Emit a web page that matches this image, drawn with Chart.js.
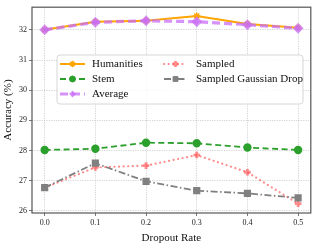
<!DOCTYPE html>
<html><head><meta charset="utf-8">
<script src="https://cdn.jsdelivr.net/npm/chart.js@4"></script>
<style>html,body{margin:0;padding:0;background:#fff}#c{display:block}</style>
</head><body>
<canvas id="c" width="318" height="246"></canvas>
<script>
const dropoutRates = [0.0, 0.1, 0.2, 0.3, 0.4, 0.5];
const humanities = [32.00, 32.27, 32.30, 32.46, 32.19, 32.07];
const stem = [28.02, 28.06, 28.26, 28.24, 28.10, 28.02];
const average = [32.00, 32.25, 32.30, 32.27, 32.17, 32.05];
const sampled = [26.77, 27.44, 27.50, 27.85, 27.28, 26.24];
const sampledGaussianDrop = [26.77, 27.58, 26.98, 26.67, 26.58, 26.43];
const xTicks = [0.0, 0.1, 0.2, 0.3, 0.4, 0.5];
const yTicks = [26, 27, 28, 29, 30, 31, 32];

const serif = "'Liberation Serif', 'DejaVu Serif', serif";
const pts = arr => arr.map((v, i) => ({x: dropoutRates[i], y: v}));

const datasets = [
  {label:'Humanities', data:pts(humanities), borderColor:'#FFA500', backgroundColor:'#FFA500', borderWidth:2, pointStyle:'star', pointRadius:3.5, pointBorderWidth:1.5, order:5},
  {label:'Stem', data:pts(stem), borderColor:'#2ca02c', backgroundColor:'#2ca02c', borderWidth:1.8, borderDash:[6,3.5], pointStyle:'circle', pointRadius:3.3, order:4},
  {label:'Average', data:pts(average), borderColor:'rgba(200,110,245,0.75)', backgroundColor:'rgba(200,110,245,0.75)', borderWidth:3.2, borderDash:[8,4], pointStyle:'rectRot', pointRadius:3.2, order:3},
  {label:'Sampled', data:pts(sampled), borderColor:'rgba(255,90,90,0.7)', backgroundColor:'rgba(255,90,90,0.7)', borderWidth:2.2, borderDash:[0.1,4.5], borderCapStyle:'round', pointStyle:'cross', pointRadius:3.3, pointBorderWidth:2.8, order:2},
  {label:'Sampled Gaussian Drop', data:pts(sampledGaussianDrop), borderColor:'#808080', backgroundColor:'#808080', borderWidth:1.8, borderDash:[7,2.5,1.5,2.5], pointStyle:'rect', pointRadius:3.8, order:1}
];
datasets.forEach(d => { d.fill = false; d.tension = 0; d.pointBorderColor = d.borderColor; d.pointBackgroundColor = d.backgroundColor; });

const frame = {
  id:'frame',
  afterDraw(chart){
    const {ctx, chartArea:a} = chart;
    ctx.save();
    ctx.strokeStyle = '#555';
    ctx.lineWidth = 1.2;
    ctx.strokeRect(a.left, a.top, a.right - a.left, a.bottom - a.top);
    const bx = 57, by = 55, bw = 246, bh = 49;
    ctx.fillStyle = 'rgba(255,255,255,0.85)';
    ctx.strokeStyle = '#d6d6d6';
    ctx.lineWidth = 1;
    const r = 3;
    ctx.beginPath();
    ctx.moveTo(bx + r, by); ctx.lineTo(bx + bw - r, by); ctx.arcTo(bx + bw, by, bx + bw, by + r, r);
    ctx.lineTo(bx + bw, by + bh - r); ctx.arcTo(bx + bw, by + bh, bx + bw - r, by + bh, r);
    ctx.lineTo(bx + r, by + bh); ctx.arcTo(bx, by + bh, bx, by + bh - r, r);
    ctx.lineTo(bx, by + r); ctx.arcTo(bx, by, bx + r, by, r);
    ctx.closePath(); ctx.fill(); ctx.stroke();
    const items = [
      {i:0, x0:60, x1:85, tx:92, y:64},
      {i:1, x0:60, x1:85, tx:92, y:79},
      {i:2, x0:60, x1:85, tx:92, y:94},
      {i:3, x0:164, x1:187, tx:196, y:64},
      {i:4, x0:164, x1:187, tx:196, y:79}
    ];
    items.forEach(it => {
      const d = datasets[it.i];
      ctx.save();
      ctx.strokeStyle = d.borderColor;
      ctx.lineWidth = d.borderWidth;
      ctx.setLineDash(d.borderDash || []);
      ctx.lineCap = d.borderCapStyle || 'butt';
      ctx.beginPath(); ctx.moveTo(it.x0, it.y); ctx.lineTo(it.x1, it.y); ctx.stroke();
      ctx.restore();
      ctx.save();
      ctx.fillStyle = d.borderColor; ctx.strokeStyle = d.borderColor;
      ctx.lineWidth = d.pointBorderWidth || 1;
      Chart.helpers.drawPoint(ctx, {pointStyle:d.pointStyle, radius:d.pointRadius * 0.9, borderWidth:d.pointBorderWidth || 1, rotation:0}, (it.x0 + it.x1) / 2, it.y);
      ctx.restore();
      ctx.fillStyle = '#111';
      ctx.font = "11px " + serif;
      ctx.textBaseline = 'middle';
      ctx.fillText(d.label, it.tx, it.y + 0.5);
    });
    ctx.restore();
  }
};

new Chart(document.getElementById('c'), {
  type:'line',
  data:{datasets},
  options:{
    responsive:false, animation:false,
    layout:{padding:{top:6, right:6, left:2, bottom:1}},
    plugins:{legend:{display:false}, tooltip:{enabled:false}},
    scales:{
      x:{type:'linear', min:-0.025, max:0.525,
        afterBuildTicks: s => { s.ticks = xTicks.map(v => ({value:v})); },
        afterFit: s => { s.height = 32; },
        ticks:{callback: v => v.toFixed(1), color:'#222', font:{family:serif, size:8}, padding:2, maxRotation:0, autoSkip:false},
        grid:{color:'#c8c8c8', lineWidth:0.8, tickColor:'#555', tickLength:3},
        border:{display:false, dash:[1.2,1.2]},
        title:{display:true, text:'Dropout Rate', color:'#111', font:{family:serif, size:11}, padding:{top:0, bottom:0}}
      },
      y:{type:'linear', min:25.93, max:32.75,
        afterBuildTicks: s => { s.ticks = yTicks.map(v => ({value:v})); },
        afterFit: s => { s.width = 30; },
        ticks:{color:'#222', font:{family:serif, size:8}, padding:2, autoSkip:false},
        grid:{color:'#c8c8c8', lineWidth:0.8, tickColor:'#555', tickLength:3},
        border:{display:false, dash:[1.2,1.2]},
        title:{display:true, text:'Accuracy (%)', color:'#111', font:{family:serif, size:11}, padding:{top:0, bottom:2}}
      }
    }
  },
  plugins:[frame]
});
</script>
</body></html>
